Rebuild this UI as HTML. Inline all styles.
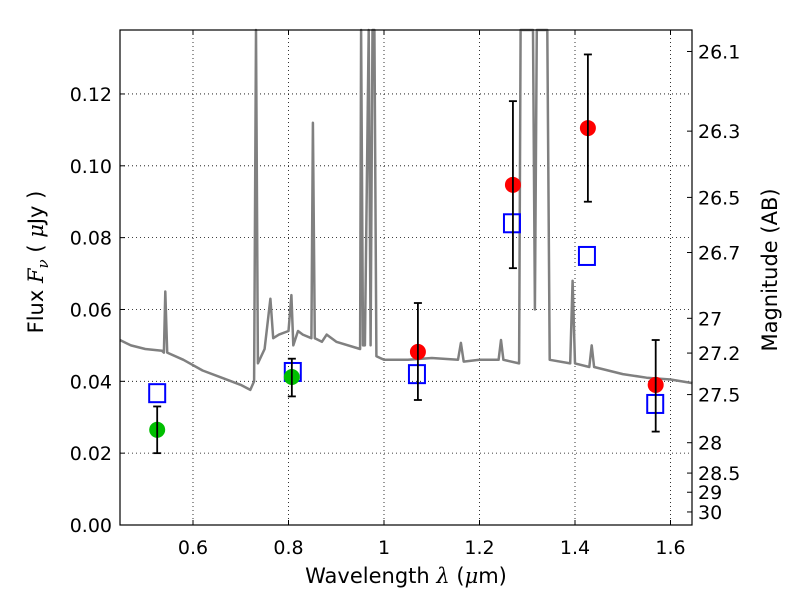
<!DOCTYPE html>
<html><head><meta charset="utf-8"><style>
body{margin:0;background:#fff}
svg text{font-family:"DejaVu Sans","Liberation Sans",sans-serif;fill:#000}
</style></head><body>
<svg id="chart" width="800" height="600" xmlns="http://www.w3.org/2000/svg">
<g id="grid"></g>
<g id="spec"></g>
<g id="marks"></g>
<rect x="120" y="30" width="572" height="495" fill="none" stroke="#000" stroke-width="1.2"/>
<g id="axes"></g>
<text x="406" y="583" font-size="21" text-anchor="middle">Wavelength  <tspan font-family="DejaVu Serif" font-style="italic">λ</tspan> (<tspan font-family="DejaVu Serif" font-style="italic">μ</tspan>m)</text>
<text transform="translate(43,262) rotate(-90)" font-size="21" text-anchor="middle">Flux  <tspan font-family="DejaVu Serif" font-style="italic">F</tspan><tspan font-family="DejaVu Serif" font-style="italic" font-size="15" dy="5">ν</tspan><tspan dy="-5">  ( </tspan><tspan font-family="DejaVu Serif" font-style="italic">μ</tspan>Jy )</text>
<text transform="translate(777,270) rotate(-90)" font-size="21" text-anchor="middle">Magnitude (AB)</text>
</svg>
<script>
const specWave=[0.447,0.47,0.50,0.535,0.539,0.542,0.546,0.58,0.62,0.66,0.70,0.72,0.728,0.732,0.736,0.75,0.762,0.768,0.78,0.80,0.806,0.81,0.82,0.83,0.848,0.851,0.855,0.87,0.88,0.90,0.95,0.952,0.956,0.96,0.968,0.972,0.976,0.98,0.984,1.0,1.05,1.1,1.155,1.161,1.167,1.2,1.24,1.245,1.25,1.283,1.286,1.312,1.316,1.320,1.342,1.347,1.39,1.395,1.40,1.43,1.435,1.44,1.5,1.55,1.6,1.646];
const specFlux=[0.0515,0.050,0.049,0.0485,0.048,0.065,0.048,0.046,0.043,0.041,0.039,0.0376,0.040,0.138,0.045,0.049,0.063,0.052,0.053,0.054,0.064,0.050,0.054,0.053,0.052,0.112,0.052,0.051,0.053,0.051,0.049,0.138,0.050,0.050,0.138,0.050,0.138,0.138,0.047,0.046,0.046,0.0465,0.046,0.0507,0.0455,0.046,0.046,0.0515,0.046,0.045,0.138,0.138,0.060,0.138,0.138,0.046,0.045,0.068,0.045,0.044,0.050,0.044,0.042,0.041,0.0405,0.0395];
const greenWave=[0.525,0.807];
const greenFlux=[0.0265,0.0412];
const greenLo=[0.0200,0.0358];
const greenHi=[0.0330,0.0463];
const sqWave=[0.525,0.809,1.069,1.268,1.425,1.568];
const sqFlux=[0.0367,0.0426,0.042,0.084,0.0749,0.0337];
const redWave=[1.071,1.270,1.427,1.569];
const redFlux=[0.0482,0.0947,0.1105,0.039];
const redLo=[0.0348,0.0715,0.090,0.026];
const redHi=[0.0618,0.118,0.131,0.0515];
const xTicks=[0.6,0.8,1.0,1.2,1.4,1.6];
const xTickLabels=["0.6","0.8","1","1.2","1.4","1.6"];
const yTicks=[0,0.02,0.04,0.06,0.08,0.10,0.12];
const yTickLabels=["0.00","0.02","0.04","0.06","0.08","0.10","0.12"];
const magTicks=[26.1,26.3,26.5,26.7,27,27.2,27.5,28,28.5,29,30];
const magLabels=["26.1","26.3","26.5","26.7","27","27.2","27.5","28","28.5","29","30"];

const L=120,R=692,T=30,B=525;
const xs=v=>193+(v-0.6)*477.5;
const ys=v=>525-v*3592;
const NS="http://www.w3.org/2000/svg";
function mk(tag,attrs,parent){const e=document.createElementNS(NS,tag);for(const k in attrs)e.setAttribute(k,attrs[k]);parent.appendChild(e);return e;}
const grid=document.getElementById('grid'),axes=document.getElementById('axes'),spec=document.getElementById('spec'),marks=document.getElementById('marks');
xTicks.forEach((t,i)=>{const x=xs(t);
 const g=mk('line',{x1:x,x2:x,y1:T,y2:B,stroke:'#000','stroke-dasharray':'1,3','stroke-width':0.8},grid);
 
 mk('line',{x1:x,x2:x,y1:B,y2:B-5,stroke:'#000'},axes);mk('line',{x1:x,x2:x,y1:T,y2:T+5,stroke:'#000'},axes);
 const tx=mk('text',{x:x,y:554,'font-size':19,'text-anchor':'middle'},axes);tx.textContent=xTickLabels[i];
 });
yTicks.forEach((t,i)=>{const y=ys(t);
 const g=mk('line',{x1:L,x2:R,y1:y,y2:y,stroke:'#000','stroke-dasharray':'1,3','stroke-width':0.8},grid);
 
 mk('line',{x1:L,x2:L+5,y1:y,y2:y,stroke:'#000'},axes);
 const tx=mk('text',{x:112,y:y+7,'font-size':19,'text-anchor':'end'},axes);tx.textContent=yTickLabels[i];
 });
magTicks.forEach((m,i)=>{const y=ys(Math.pow(10,(23.9-m)/2.5));
 mk('line',{x1:R,x2:R-5,y1:y,y2:y,stroke:'#000'},axes);
 const tx=mk('text',{x:698,y:y+7,'font-size':19},axes);tx.textContent=magLabels[i];
 });
const pts=specWave.map((w,i)=>xs(w).toFixed(1)+','+Math.max(T,ys(specFlux[i])).toFixed(1)).join(' ');
const pl=mk('polyline',{points:pts,fill:'none',stroke:'#808080','stroke-width':2.5,'stroke-linejoin':'round'},spec);

function err(x,lo,hi){mk('line',{x1:x,x2:x,y1:ys(lo),y2:ys(hi),stroke:'#000','stroke-width':1.8},marks);
 mk('line',{x1:x-4,x2:x+4,y1:ys(lo),y2:ys(lo),stroke:'#000','stroke-width':1.8},marks);
 mk('line',{x1:x-4,x2:x+4,y1:ys(hi),y2:ys(hi),stroke:'#000','stroke-width':1.8},marks);}
sqWave.forEach((w,i)=>{const s=mk('rect',{x:xs(w)-8,y:ys(sqFlux[i])-9,width:16,height:18,fill:'none',stroke:'#0000ff','stroke-width':2},marks);
 });
greenWave.forEach((w,i)=>{const c=mk('circle',{cx:xs(w),cy:ys(greenFlux[i]),r:8,fill:'#00bf00'},marks);
 err(xs(w),greenLo[i],greenHi[i]);});
redWave.forEach((w,i)=>{const c=mk('circle',{cx:xs(w),cy:ys(redFlux[i]),r:8,fill:'#ff0000'},marks);
 err(xs(w),redLo[i],redHi[i]);});
</script>
</body></html>
